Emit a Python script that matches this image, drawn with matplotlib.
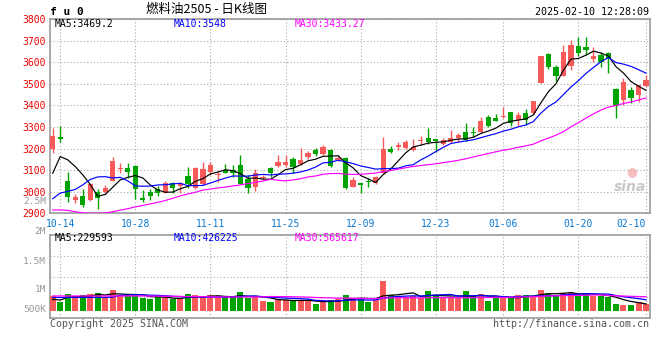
import numpy as np
import pandas as pd
import matplotlib
matplotlib.use('Agg')
import matplotlib.pyplot as plt

# trading days shown (10-11 .. 02-10)
dates = ('10-11 10-14 10-15 10-16 10-17 10-18 10-21 10-22 10-23 10-24 10-25 '
         '10-28 10-29 10-30 10-31 11-01 11-04 11-05 11-06 11-07 11-08 '
         '11-11 11-12 11-13 11-14 11-15 11-18 11-19 11-20 11-21 11-22 '
         '11-25 11-26 11-27 11-28 11-29 12-02 12-03 12-04 12-05 12-06 '
         '12-09 12-10 12-11 12-12 12-13 12-16 12-17 12-18 12-19 12-20 '
         '12-23 12-24 12-25 12-26 12-27 12-30 12-31 01-02 01-03 '
         '01-06 01-07 01-08 01-09 01-10 01-13 01-14 01-15 01-16 01-17 '
         '01-20 01-21 01-22 01-23 01-24 01-27 02-05 02-06 02-07 02-10').split()
tick_labels = ['10-14', '10-28', '11-11', '11-25', '12-09', '12-23', '01-06', '01-20', '02-10']

opens = [3197, 3253, 3051, 2962, 2981, 2962, 3000, 3000, 3051, 3107,
         3112, 3120, 2971, 2999, 3012, 2996, 3039, 3027, 3073, 3016,
         3036, 3093, 3080, 3101, 3101, 3124, 3058, 3024, 3062, 3109,
         3120, 3126, 3150, 3129, 3163, 3194, 3175, 3194, 3147, 3155,
         3024, 3039, 3047, 3042, 3089, 3197, 3209, 3201, 3194, 3236,
         3248, 3243, 3221, 3232, 3248, 3277, 3277, 3277, 3345, 3343,
         3348, 3370, 3332, 3363, 3363, 3502, 3638, 3579, 3536, 3582,
         3675, 3669, 3613, 3633, 3641, 3475, 3425, 3471, 3448, 3490]
highs = [3294, 3305, 3093, 2990, 3012, 3036, 3012, 3030, 3162, 3132,
         3135, 3124, 3008, 3012, 3027, 3051, 3047, 3047, 3113, 3113,
         3139, 3139, 3098, 3129, 3124, 3170, 3078, 3104, 3077, 3116,
         3170, 3170, 3162, 3201, 3190, 3201, 3217, 3197, 3166, 3162,
         3070, 3042, 3062, 3073, 3255, 3212, 3231, 3240, 3243, 3258,
         3294, 3243, 3248, 3286, 3274, 3320, 3301, 3348, 3357, 3360,
         3391, 3370, 3371, 3382, 3422, 3629, 3644, 3585, 3678, 3703,
         3715, 3718, 3669, 3649, 3649, 3479, 3526, 3484, 3494, 3541]
lows = [3178, 3232, 2954, 2950, 2931, 2959, 2922, 2996, 3048, 3086,
        3062, 2965, 2954, 2962, 2981, 2993, 2993, 2993, 3016, 3012,
        3032, 3078, 3047, 3086, 3070, 3036, 2993, 3004, 3054, 3070,
        3113, 3116, 3086, 3124, 3150, 3166, 3172, 3113, 3144, 3012,
        3021, 2993, 3021, 3036, 3086, 3178, 3194, 3197, 3190, 3217,
        3221, 3186, 3217, 3227, 3232, 3237, 3255, 3274, 3299, 3329,
        3340, 3305, 3305, 3309, 3360, 3502, 3570, 3514, 3536, 3564,
        3629, 3633, 3602, 3579, 3551, 3340, 3402, 3413, 3417, 3487]
closes = [3258, 3244, 2977, 2975, 2939, 3036, 2970, 3018, 3144, 3109,
          3093, 3012, 2962, 2981, 2993, 3042, 3016, 3039, 3036, 3110,
          3104, 3125, 3082, 3089, 3089, 3036, 3016, 3089, 3064, 3086,
          3138, 3138, 3116, 3147, 3178, 3175, 3206, 3120, 3156, 3016,
          3055, 3030, 3044, 3070, 3198, 3184, 3218, 3231, 3209, 3237,
          3232, 3237, 3240, 3248, 3263, 3240, 3271, 3328, 3305, 3329,
          3350, 3320, 3356, 3332, 3422, 3629, 3579, 3536, 3647, 3680,
          3644, 3656, 3629, 3602, 3613, 3397, 3507, 3433, 3494, 3518]
# volume, thousands of lots
volumes = [664, 405, 755, 664, 709, 755, 786, 632, 936, 664,
           664, 755, 586, 527, 605, 605, 514, 514, 755, 695,
           605, 709, 605, 605, 632, 859, 559, 605, 450, 405,
           482, 482, 482, 450, 450, 300, 377, 482, 514, 709,
           559, 559, 405, 482, 1345, 709, 664, 632, 664, 559,
           891, 709, 559, 605, 559, 891, 664, 755, 436, 559,
           605, 605, 709, 709, 664, 936, 814, 709, 814, 814,
           664, 814, 664, 664, 605, 300, 255, 255, 405, 300]

# moving-average values before enough history is on screen
ma5_head = [3086, 3163, 3148, 3117]
ma10_head = [2968, 2994, 3002, 3011, 3032, 3057, 3069, 3070, 3064]
ma30_head = [2916, 2916, 2914, 2908, 2903, 2901, 2901, 2902, 2908, 2915,
             2922, 2930, 2937, 2944, 2951, 2960, 2970, 2981, 2990, 2998,
             3008, 3013, 3018, 3022, 3027, 3032, 3038, 3044, 3050]
vma5_head = [510, 480, 600, 630]
vma10_head = [600, 600, 600, 600, 600, 600, 600, 605, 610]
vma30_head = [665, 665, 665, 665, 665, 665, 665, 665, 665, 665,
              665, 665, 665, 660, 660, 655, 650, 645, 640, 635,
              630, 625, 620, 620, 620, 620, 620, 620, 620]

price_legend = ['MA5:3469.2', 'MA10:3548', 'MA30:3433.27']
vol_legend = ['MA5:229593', 'MA10:426225', 'MA30:565617']
vol_axis_labels = ['2.5M', '2M', '1.5M', '1M', '500K']

UP = '#f85a5a'
DOWN = '#00a300'
MA_COLORS = ['black', '#0000ff', '#ff00ff']
GRID = '#aaaaaa'
MONO = 'DejaVu Sans Mono'


def ma(values, n, head):
    s = pd.Series(values, dtype=float).rolling(n).mean()
    s.iloc[:len(head)] = head
    return s.values


W, H = 660, 360
fig = plt.figure(figsize=(W / 100, H / 100), dpi=100)
fig.patch.set_facecolor('white')


def px(x, y):
    return x / W, 1 - y / H


ax = fig.add_axes([50 / W, 1 - 213.4 / H, 600 / W, 194.4 / H])
axv = fig.add_axes([50 / W, 1 - 318.3 / H, 600 / W, 83.3 / H])

x = np.arange(len(dates))
o = np.array(opens, float)
c = np.array(closes, float)
up = c >= o
col = np.where(up, UP, DOWN)

# candles
ax.vlines(x, lows, highs, colors=col, lw=1.0, zorder=3)
body_lo = np.minimum(o, c)
body_h = np.maximum(np.abs(c - o), 4.6)
ax.bar(x, body_h, bottom=body_lo, width=0.7, color=col, lw=0, zorder=4)

for n, head, colr in zip([5, 10, 30], [ma5_head, ma10_head, ma30_head], MA_COLORS):
    ax.plot(x, ma(closes, n, head), color=colr, lw=0.85, zorder=5)

# volume
vol = np.array(volumes, float) * 1000
axv.bar(x, vol, width=0.8, color=col, lw=0, zorder=3)
for n, head, colr in zip([5, 10, 30], [vma5_head, vma10_head, vma30_head], MA_COLORS):
    axv.plot(x, ma(vol, n, np.array(head) * 1000), color=colr, lw=0.9, zorder=4)

tick_pos = [dates.index(t) for t in tick_labels]
for a in (ax, axv):
    a.set_xlim(-0.36, 79.53)
    a.set_xticks(tick_pos)
    a.tick_params(length=0)
    a.grid(True, color=GRID, linestyle=(0, (1, 2)), lw=0.8, zorder=0)
    for s in a.spines.values():
        s.set_color('#999999')
        s.set_linewidth(1.2)
    a.set_facecolor('white')

ax.set_ylim(2900, 3800)
ax.set_yticks(np.arange(2900, 3801, 100))
ax.set_xticklabels(tick_labels)
ax.tick_params(axis='y', labelcolor='#ee0000', labelsize=7, pad=3)
ax.tick_params(axis='x', labelcolor='#0a78d0', labelsize=7, pad=4)
for lab in ax.get_xticklabels() + ax.get_yticklabels():
    lab.set_family(MONO)
ax.get_xticklabels()[-1].set_horizontalalignment('right')

vlo, vhi = -0.35e6, 3.436e6
axv.set_ylim(vlo, vhi)
axv.set_yticks(vlo + (vhi - vlo) * np.array([0.25, 0.5, 0.75]))
axv.set_yticklabels([])
axv.set_xticklabels([])

for lab, y in zip(vol_axis_labels, [202, 231, 261, 290, 310]):
    fig.text(*px(46, y), lab, ha='right', va='center', color='#999999',
             family=MONO, size=6.8)

# header
fig.text(*px(50, 12), 'f u 0', ha='left', va='center', family=MONO,
         weight='bold', size=8)
fig.text(*px(207, 10), '燃料油2505 - 日K线图', ha='center', va='center',
         family=['Noto Sans CJK SC', 'DejaVu Sans'], size=9)
fig.text(*px(649, 12), '2025-02-10 12:28:09', ha='right', va='center',
         family=MONO, size=7.2)

for lab, xx, colr in zip(price_legend, [55, 174, 295], MA_COLORS):
    fig.text(*px(xx, 24), lab, ha='left', va='center', color=colr,
             family=MONO, size=7)
for lab, xx, colr in zip(vol_legend, [55, 174, 295], MA_COLORS):
    fig.text(*px(xx, 238), lab, ha='left', va='center', color=colr,
             family=MONO, size=7)

# watermark
fig.text(*px(632, 172), '●', ha='center', va='center', color='#f4b0b0',
         size=9, alpha=0.8)
fig.text(*px(630, 187), 'sina', ha='center', va='center', color='#c8c8c8',
         style='italic', weight='bold', size=10)

fig.text(*px(50, 324), 'Copyright 2025 SINA.COM', ha='left', va='center',
         color='#555555', family=MONO, size=7.2)
fig.text(*px(649, 324), 'http://finance.sina.com.cn', ha='right', va='center',
         color='#555555', family=MONO, size=7.2)

fig.savefig('out.png', dpi=100)
